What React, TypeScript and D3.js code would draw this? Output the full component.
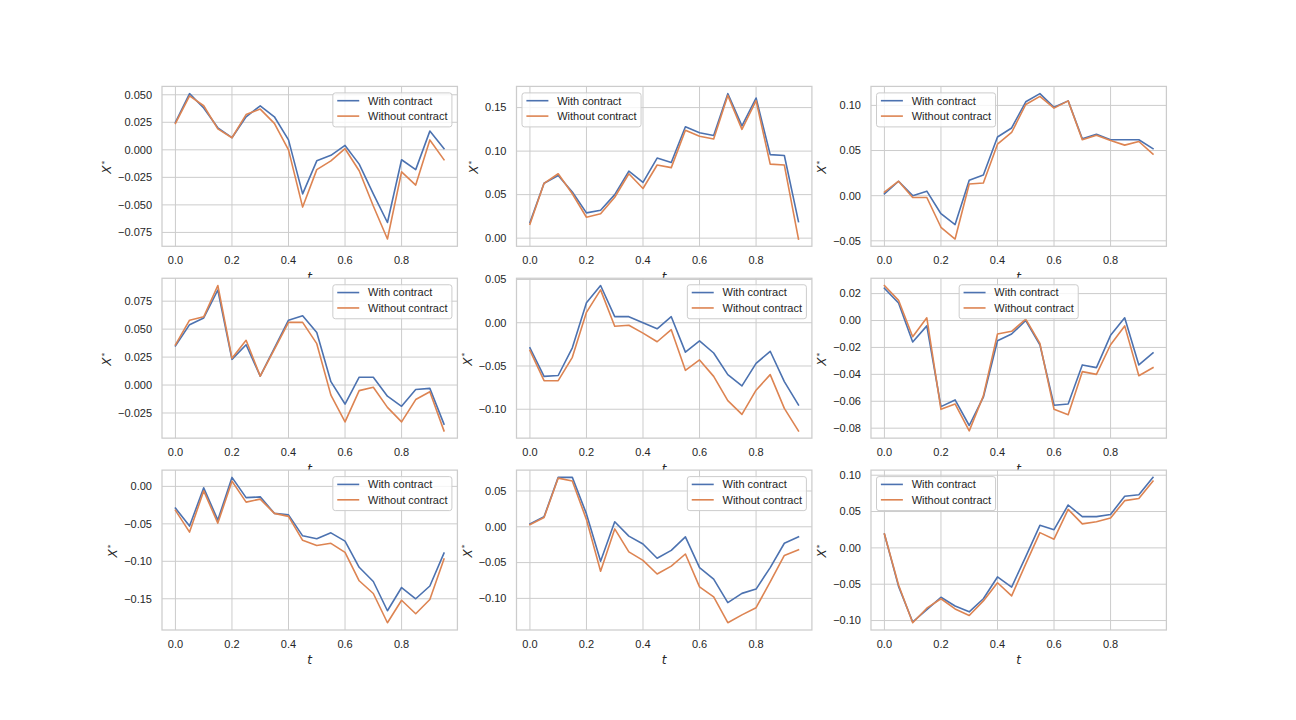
import * as d3 from "d3";

// time grid shared by all panels
const tValues = [0, 0.05, 0.1, 0.15, 0.2, 0.25, 0.3, 0.35, 0.4, 0.45, 0.5, 0.55, 0.6, 0.65, 0.7, 0.75, 0.8, 0.85, 0.9, 0.95];
const xTicks = [0, 0.2, 0.4, 0.6, 0.8];

const withP1 = [0.025, 0.051, 0.038, 0.020, 0.011, 0.030, 0.040, 0.030, 0.009, -0.040, -0.010, -0.005, 0.004, -0.013, -0.040, -0.066, -0.009, -0.018, 0.017, 0.001];
const withoutP1 = [0.024, 0.049, 0.040, 0.019, 0.011, 0.032, 0.037, 0.024, 0.000, -0.052, -0.018, -0.010, 0.001, -0.019, -0.051, -0.081, -0.020, -0.032, 0.009, -0.009];
const yTicksP1 = [-0.075, -0.05, -0.025, 0, 0.025, 0.05];

const withP2 = [0.018, 0.063, 0.072, 0.053, 0.029, 0.032, 0.050, 0.077, 0.064, 0.092, 0.087, 0.128, 0.121, 0.118, 0.166, 0.129, 0.161, 0.096, 0.095, 0.019];
const withoutP2 = [0.016, 0.063, 0.074, 0.051, 0.024, 0.028, 0.047, 0.074, 0.057, 0.084, 0.081, 0.124, 0.117, 0.114, 0.164, 0.125, 0.158, 0.085, 0.084, -0.001];
const yTicksP2 = [0, 0.05, 0.1, 0.15];

const withP3 = [0.002, 0.016, 0.000, 0.005, -0.020, -0.032, 0.017, 0.023, 0.065, 0.075, 0.104, 0.113, 0.098, 0.105, 0.063, 0.068, 0.062, 0.062, 0.062, 0.052];
const withoutP3 = [0.004, 0.016, -0.002, -0.002, -0.035, -0.048, 0.013, 0.014, 0.057, 0.070, 0.101, 0.110, 0.097, 0.105, 0.062, 0.067, 0.061, 0.056, 0.060, 0.046];
const yTicksP3 = [-0.05, 0, 0.05, 0.1];

const withP4 = [0.035, 0.054, 0.060, 0.085, 0.023, 0.036, 0.008, 0.033, 0.058, 0.062, 0.047, 0.003, -0.017, 0.007, 0.007, -0.010, -0.019, -0.004, -0.003, -0.035];
const withoutP4 = [0.036, 0.058, 0.061, 0.089, 0.024, 0.040, 0.008, 0.032, 0.056, 0.056, 0.037, -0.009, -0.033, -0.005, -0.002, -0.020, -0.033, -0.013, -0.006, -0.041];
const yTicksP4 = [-0.025, 0, 0.025, 0.05, 0.075];

const withP5 = [-0.029, -0.062, -0.061, -0.029, 0.023, 0.043, 0.007, 0.007, 0.000, -0.007, 0.007, -0.034, -0.021, -0.035, -0.060, -0.073, -0.047, -0.033, -0.068, -0.095];
const withoutP5 = [-0.032, -0.067, -0.067, -0.040, 0.012, 0.038, -0.004, -0.003, -0.012, -0.022, -0.008, -0.055, -0.043, -0.062, -0.090, -0.106, -0.078, -0.060, -0.099, -0.125];
const yTicksP5 = [-0.1, -0.05, 0, 0.05];

const withP6 = [0.024, 0.013, -0.016, -0.004, -0.064, -0.059, -0.078, -0.057, -0.015, -0.010, 0.000, -0.018, -0.063, -0.062, -0.033, -0.035, -0.011, 0.002, -0.033, -0.024];
const withoutP6 = [0.026, 0.015, -0.012, 0.002, -0.066, -0.062, -0.082, -0.056, -0.010, -0.008, 0.001, -0.017, -0.066, -0.070, -0.038, -0.040, -0.018, -0.004, -0.041, -0.035];
const yTicksP6 = [-0.08, -0.06, -0.04, -0.02, 0, 0.02];

const withP7 = [-0.029, -0.053, -0.002, -0.045, 0.012, -0.015, -0.014, -0.036, -0.038, -0.066, -0.070, -0.062, -0.073, -0.108, -0.127, -0.166, -0.135, -0.150, -0.133, -0.089];
const withoutP7 = [-0.032, -0.061, -0.006, -0.049, 0.007, -0.021, -0.017, -0.036, -0.040, -0.072, -0.079, -0.076, -0.088, -0.126, -0.143, -0.182, -0.152, -0.170, -0.151, -0.097];
const yTicksP7 = [-0.15, -0.1, -0.05, 0];

const withP8 = [0.004, 0.014, 0.069, 0.069, 0.018, -0.048, 0.007, -0.013, -0.024, -0.044, -0.033, -0.014, -0.057, -0.073, -0.106, -0.093, -0.087, -0.057, -0.023, -0.014];
const withoutP8 = [0.003, 0.013, 0.068, 0.064, 0.010, -0.062, -0.003, -0.035, -0.047, -0.066, -0.055, -0.038, -0.084, -0.098, -0.134, -0.123, -0.113, -0.077, -0.040, -0.032];
const yTicksP8 = [-0.1, -0.05, 0, 0.05];

const withP9 = [0.019, -0.053, -0.102, -0.085, -0.068, -0.080, -0.088, -0.070, -0.040, -0.054, -0.012, 0.031, 0.025, 0.059, 0.043, 0.043, 0.046, 0.071, 0.073, 0.097];
const withoutP9 = [0.019, -0.051, -0.103, -0.083, -0.070, -0.084, -0.093, -0.073, -0.048, -0.066, -0.022, 0.021, 0.012, 0.053, 0.033, 0.036, 0.041, 0.065, 0.068, 0.092];
const yTicksP9 = [-0.1, -0.05, 0, 0.05, 0.1];

const seriesNames = ["With contract", "Without contract"];
const colors = ["#4c72b0", "#dd8452"];

const panels = [
  { a: withP1, b: withoutP1, ticks: yTicksP1, dec: 3, loc: "upper right" },
  { a: withP2, b: withoutP2, ticks: yTicksP2, dec: 2, loc: "upper left" },
  { a: withP3, b: withoutP3, ticks: yTicksP3, dec: 2, loc: "upper left" },
  { a: withP4, b: withoutP4, ticks: yTicksP4, dec: 3, loc: "upper right" },
  { a: withP5, b: withoutP5, ticks: yTicksP5, dec: 2, loc: "upper right" },
  { a: withP6, b: withoutP6, ticks: yTicksP6, dec: 2, loc: "upper center" },
  { a: withP7, b: withoutP7, ticks: yTicksP7, dec: 2, loc: "upper right" },
  { a: withP8, b: withoutP8, ticks: yTicksP8, dec: 2, loc: "upper right" },
  { a: withP9, b: withoutP9, ticks: yTicksP9, dec: 2, loc: "upper left" },
];

const W = 1296;
const H = 720;
const FS = 11;
const FONT = "'Liberation Sans', Arial, sans-serif";
const MATH = "'DejaVu Sans', sans-serif";
const GRID = "#cccccc";
const INK = "#262626";

// subplot params as in matplotlib
const left = 0.125 * W, right = 0.9 * W, top = 0.12 * H, bottom = 0.875 * H;
const axW = (right - left) / 3.4;
const axH = (bottom - top) / 3.4;

// rough Arial advance widths, em units
const ARIAL: Record<string, number> = { ".": 0.278, "\u2212": 0.584, " ": 0.278, W: 0.944, i: 0.222, t: 0.278, r: 0.333, c: 0.5 };
const textWidth = (s: string) => Array.from(s).reduce((acc, c) => acc + (ARIAL[c] ?? 0.556), 0) * FS;

const fmt = (v: number, dec: number) => {
  const s = Math.abs(v).toFixed(dec);
  return v < 0 && Number(s) !== 0 ? "\u2212" + s : s;
};

function Panel({ p, idx }: { p: (typeof panels)[0]; idx: number }) {
  const col = idx % 3;
  const row = Math.floor(idx / 3);
  const x0 = left + col * axW * 1.2;
  const y0 = top + row * axH * 1.2;

  const xExt = d3.extent(tValues) as [number, number];
  const xPad = (xExt[1] - xExt[0]) * 0.05;
  const x = d3.scaleLinear().domain([xExt[0] - xPad, xExt[1] + xPad]).range([0, axW]);

  const yExt = d3.extent([...p.a, ...p.b]) as [number, number];
  const yPad = (yExt[1] - yExt[0]) * 0.05;
  const y = d3.scaleLinear().domain([yExt[0] - yPad, yExt[1] + yPad]).range([axH, 0]);

  const line = d3.line<number>().x((_, i) => x(tValues[i])).y((d) => y(d));

  const labels = p.ticks.map((v) => fmt(v, p.dec));
  const maxLab = d3.max(labels, textWidth) ?? 0;
  const yLabelX = -10 - maxLab - 7;

  // legend box
  const boxW = FS * (0.4 + 2 + 0.8 + 0.4) + d3.max(seriesNames, textWidth)!;
  const boxH = 34;
  const pad = FS * 0.5;
  const boxX = p.loc === "upper right" ? axW - pad - boxW : p.loc === "upper left" ? pad : (axW - boxW) / 2;
  const boxY = pad + 1;

  return (
    <g transform={`translate(${x0},${y0})`}>
      <rect width={axW} height={axH} fill="white" />
      {xTicks.map((v) => (
        <line key={"gx" + v} x1={x(v)} x2={x(v)} y1={0} y2={axH} stroke={GRID} strokeWidth={1} />
      ))}
      {p.ticks.map((v) => (
        <line key={"gy" + v} x1={0} x2={axW} y1={y(v)} y2={y(v)} stroke={GRID} strokeWidth={1} />
      ))}
      {[p.a, p.b].map((s, i) => (
        <path key={i} d={line(s) ?? ""} fill="none" stroke={colors[i]} strokeWidth={1.6} strokeLinejoin="round" strokeLinecap="square" />
      ))}
      <rect width={axW} height={axH} fill="none" stroke={GRID} strokeWidth={1.25} />
      <g fontFamily={FONT} fontSize={FS} fill={INK}>
        {xTicks.map((v) => (
          <text key={"tx" + v} x={x(v)} y={axH + 18} textAnchor="middle">
            {v.toFixed(1)}
          </text>
        ))}
        {p.ticks.map((v, i) => (
          <text key={"ty" + v} x={-10} y={y(v)} dy="0.35em" textAnchor="end">
            {labels[i]}
          </text>
        ))}
      </g>
      <g transform={`translate(${boxX},${boxY})`} fontFamily={FONT} fontSize={FS} fill={INK}>
        <rect width={boxW} height={boxH} rx={2.5} fill="white" fillOpacity={0.8} stroke={GRID} strokeWidth={1} />
        {seriesNames.map((name, i) => (
          <g key={name} transform={`translate(0,${7.8 + i * 15.4})`}>
            <line x1={FS * 0.4} x2={FS * 2.4} y1={0} y2={0} stroke={colors[i]} strokeWidth={1.6} />
            <text x={FS * 3.2} y={0} dy="0.35em">
              {name}
            </text>
          </g>
        ))}
      </g>
      <text x={axW / 2} y={axH + 34.5} textAnchor="middle" fontFamily={MATH} fontStyle="italic" fontSize={12} fill={INK}>
        t
      </text>
      <text
        transform={`translate(${yLabelX},${axH / 2 + 1}) rotate(-90)`}
        textAnchor="middle"
        fontFamily={MATH}
        fontSize={12}
        fill={INK}
      >
        <tspan fontStyle="italic">X</tspan>
        <tspan dy={-4.5} dx={1} fontSize={7.5}>*</tspan>
      </text>
    </g>
  );
}

export default function App() {
  return (
    <svg width={W} height={H} viewBox={`0 0 ${W} ${H}`} style={{ position: "absolute", left: 0, top: 0, display: "block", background: "white" }}>
      <rect width={W} height={H} fill="white" />
      {panels.map((p, i) => (
        <Panel key={i} p={p} idx={i} />
      ))}
    </svg>
  );
}
